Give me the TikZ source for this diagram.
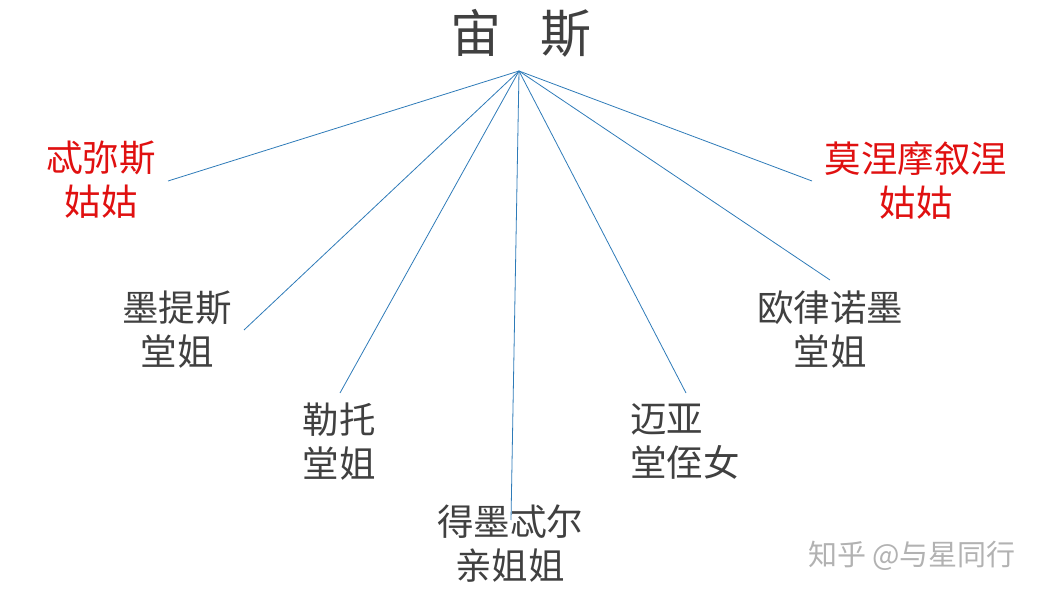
\documentclass[tikz,border=0pt]{standalone}
\usepackage{fontspec}
\newfontfamily\cjk{Noto Sans CJK SC}
\definecolor{kin}{HTML}{404040}
\definecolor{aunt}{HTML}{E01010}
\definecolor{link}{HTML}{2E7BB8}
\tikzset{
    member/.style={text=kin, align=center, inner sep=0pt, font=\fontsize{36.5}{44}\selectfont\cjk},
    auntie/.style={member, text=aunt},
    tie/.style={link, line width=0.8pt}
}
\begin{document}
\begin{tikzpicture}[x=1pt, y=-1pt]
    \useasboundingbox (0,0) rectangle (1052,601);
    % Zeus at the top
    \node[member, font=\fontsize{51}{60}\selectfont\cjk] (zeus) at (521,33) {宙\hspace{0.75em}斯};
    \coordinate (hub) at (519,71);

    % the relatives
    \node[auntie] (themis) at (101,180) {忒弥斯\\姑姑};
    \node[member] (metis) at (177,330) {墨提斯\\堂姐};
    \node[member] (leto) at (339,442) {勒托\\堂姐};
    \node[member] (demeter) at (510,544) {得墨忒尔\\亲姐姐};
    \node[member, align=left] (maia) at (685,442) {迈亚\\堂侄女};
    \node[member] (eurynome) at (830,330) {欧律诺墨\\堂姐};
    \node[auntie] (mnemo) at (916,180) {莫涅摩叙涅\\姑姑};

    % line ends
    \coordinate (themisEnd) at (168,181);
    \coordinate (metisEnd) at (244,330);
    \coordinate (letoEnd) at (340,393);
    \coordinate (demeterEnd) at (511,520);
    \coordinate (maiaEnd) at (686,393);
    \coordinate (eurynomeEnd) at (830,280);
    \coordinate (mnemoEnd) at (812,181);

    \foreach \e in {themisEnd, metisEnd, letoEnd, demeterEnd, maiaEnd, eurynomeEnd, mnemoEnd}
        \draw[tie] (hub) -- (\e);

    % watermark
    \node[text=black!30, font=\fontsize{29}{32}\selectfont\cjk] (mark) at (912,556) {知乎 @与星同行};
\end{tikzpicture}
\end{document}
